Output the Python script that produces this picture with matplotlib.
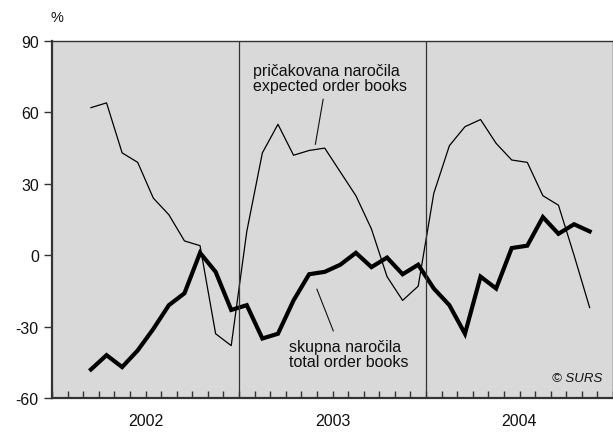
import numpy as np
import matplotlib
matplotlib.use('Agg')
import matplotlib.pyplot as plt
import matplotlib.transforms as mtransforms

plt.rcParams['font.family'] = ['Liberation Sans', 'DejaVu Sans']
plt.rcParams['axes.unicode_minus'] = False

# monthly data, March 2002 - November 2004 (month index 2..34 from Jan 2002)
start_month = 2
expected = [62, 64, 43, 39, 24, 17, 6, 4, -33, -38,
            10, 43, 55, 42, 44, 45, 35, 25, 11, -9, -19, -13,
            26, 46, 54, 57, 47, 40, 39, 25, 21, 0, -22]
total = [-48, -42, -47, -40, -31, -21, -16, 1, -7, -23,
         -21, -35, -33, -19, -8, -7, -4, 1, -5, -1, -8, -4,
         -14, -21, -33, -9, -14, 3, 4, 16, 9, 13, 10]
years = ['2002', '2003', '2004']

x = np.arange(start_month, start_month + len(total)) + 0.5

fig = plt.figure(figsize=(6.13, 4.35), dpi=100)
ax = fig.add_axes([52 / 613, 36 / 435, 561 / 613, 357 / 435])
ax.set_facecolor('#d9d9d9')

ax.plot(x, expected, color='black', lw=0.9)
ax.plot(x, total, color='black', lw=3, solid_joinstyle='miter')

for v in [12, 24]:
    ax.axvline(v, color='#333333', lw=0.9)

ax.set_xlim(0, 36)
ax.set_ylim(-60, 90)
ax.set_yticks([-60, -30, 0, 30, 60, 90])
ax.tick_params(axis='y', direction='out', length=6, width=1, pad=3.5,
               labelsize=11.5, colors='#333333', labelcolor='#111111')

ax.set_xticks(np.arange(0, 37))
ax.set_xticklabels([])
ax.tick_params(axis='x', direction='in', length=5, width=1, colors='#333333')

# year labels centred under each year
trans = mtransforms.blended_transform_factory(ax.transData, fig.transFigure)
for i, yr in enumerate(years):
    fig.text(6 + 12 * i, 1 - 422 / 435, yr, transform=trans, fontsize=11.5,
             ha='center', va='center', color='#111111')

for side in ['left', 'bottom']:
    ax.spines[side].set_linewidth(1.6)
    ax.spines[side].set_color('#333333')
for side in ['top', 'right']:
    ax.spines[side].set_linewidth(1.0)
    ax.spines[side].set_color('#333333')

fig.text(57 / 613, 1 - 18 / 435, '%', fontsize=10.5, ha='center', va='center', color='#111111')

ax.text(12.9, 74.5, 'pričakovana naročila\nexpected order books', fontsize=11.5,
        ha='left', va='center', linespacing=1.0, color='#111111')
ax.plot([17.4, 16.9], [65.5, 46.6], color='#111111', lw=0.8)

ax.text(15.2, -41.5, 'skupna naročila\ntotal order books', fontsize=11.5,
        ha='left', va='center', linespacing=1.0, color='#111111')
ax.plot([17.0, 18.05], [-14.3, -31.8], color='#111111', lw=0.8)

ax.text(35.3, -51.4, '© SURS', fontsize=9.5, style='italic', ha='right', va='center', color='#111111')

fig.savefig('out.png', dpi=100)
